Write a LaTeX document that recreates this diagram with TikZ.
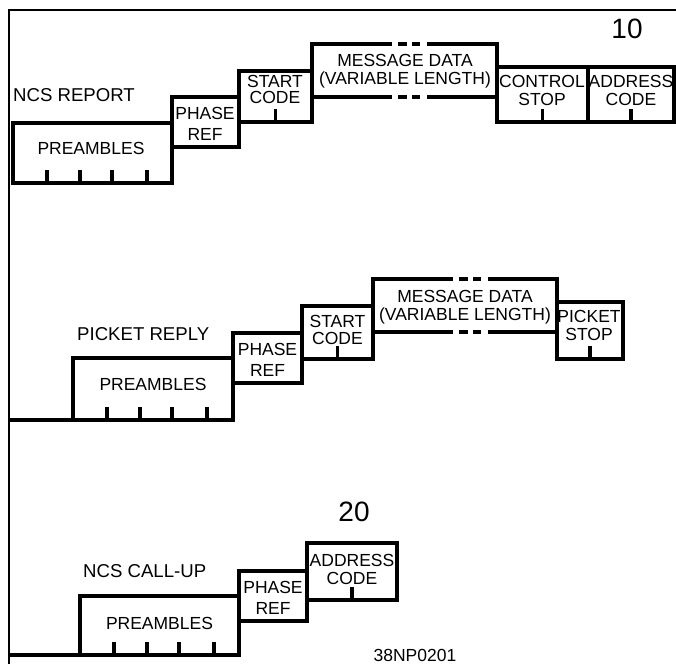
\documentclass[tikz,border=0pt]{standalone}
\usepackage{fontspec}
\setmainfont{Liberation Sans}
\usetikzlibrary{positioning}

\begin{document}
\begin{tikzpicture}[
    x=1pt, y=-1pt,
    font=\fontsize{17.5}{18}\selectfont,
    field/.style={draw, line width=3.2pt, anchor=north west, inner sep=0pt, outer sep=0pt},
    openfield/.style={anchor=north west, inner sep=0pt, outer sep=0pt},
    lbl/.style={align=center, inner sep=0pt},
    title/.style={anchor=west, inner sep=0pt, font=\fontsize{18.6}{19}\selectfont},
    num/.style={font=\fontsize{28}{28}\selectfont, inner sep=0pt},
    heavy/.style={line width=3.2pt},
    gapline/.style={line width=3.2pt,
                    dash pattern=on 80pt off 6pt on 9pt off 5pt on 8pt off 7pt on 300pt},
    frame/.style={line width=2.8pt}
]
\useasboundingbox (0,0) rectangle (676,664);
\draw[frame] (676,10) -- (9,10) -- (9,664);

% NCS report
\node[title] (ncsrep) at (13,95) {NCS REPORT};
\node[num] (ten) at (627,29) {10};
\node[field, minimum width=159, minimum height=60] (pre1) at (13,123) {};
\node[field, minimum width=67, minimum height=50] (phase1) at (172,97) {};
\node[field, minimum width=73, minimum height=51] (start1) at (239,71) {};
\node[openfield, minimum width=185, minimum height=53] (msg1) at (312,44) {};
\node[field, minimum width=91, minimum height=55] (ctrl1) at (497,67) {};
\node[field, minimum width=86, minimum height=55] (addr1) at (588,67) {};
\node[lbl] (pre1t) at (91,148) {PREAMBLES};
\node[lbl] (phase1t) at (205,123.5) {PHASE\\[3pt]REF};
\node[lbl] (start1t) at (275,89.5) {START\\[-1.5pt]CODE};
\node[lbl] (msg1t) at (405,71) {MESSAGE DATA\\(VARIABLE LENGTH)};
\node[lbl] (ctrl1t) at (542,90.5) {CONTROL\\STOP};
\node[lbl] (addr1t) at (631,90.5) {ADDRESS\\CODE};

% picket reply
\node[title] (picrep) at (77,334.5) {PICKET REPLY};
\node[field, minimum width=160, minimum height=62] (pre2) at (73,358) {};
\node[field, minimum width=69, minimum height=50] (phase2) at (233,333) {};
\node[field, minimum width=71, minimum height=53] (start2) at (302,306) {};
\node[openfield, minimum width=184, minimum height=53] (msg2) at (373,279) {};
\node[field, minimum width=66, minimum height=57] (pick2) at (557,302) {};
\node[lbl] (pre2t) at (153,384) {PREAMBLES};
\node[lbl] (phase2t) at (267.5,360) {PHASE\\[3pt]REF};
\node[lbl] (start2t) at (337.5,329.5) {START\\[-1pt]CODE};
\node[lbl] (msg2t) at (465,307) {MESSAGE DATA\\(VARIABLE LENGTH)};
\node[lbl] (pick2t) at (589,325) {PICKET\\STOP};
\draw[heavy] (9,420) -- (pre2.south west);

% NCS call-up
\node[title] (ncscall) at (83,571) {NCS CALL-UP};
\node[num] (twenty) at (354,512) {20};
\node[field, minimum width=159, minimum height=59] (pre3) at (80,596) {};
\node[field, minimum width=68, minimum height=50] (phase3) at (239,571) {};
\node[field, minimum width=90, minimum height=57] (addr3) at (307,543) {};
\node[lbl] (pre3t) at (159.5,623) {PREAMBLES};
\node[lbl] (phase3t) at (273,597.5) {PHASE\\[3pt]REF};
\node[lbl] (addr3t) at (352,569) {ADDRESS\\CODE};
\draw[heavy] (9,655) -- (pre3.south west);

\node[lbl] (figno) at (415,655.5) {38NP0201};

% message boxes, broken top and bottom
\foreach \m in {msg1,msg2} {
  \draw[heavy, line cap=rect] (\m.north west) -- (\m.south west)
                              (\m.north east) -- (\m.south east);
  \draw[gapline] (\m.north west) -- (\m.north east);
  \draw[gapline] (\m.south west) -- (\m.south east);
}

% ticks
\foreach \p in {pre1,pre2,pre3}
  \foreach \dx in {34,67,99,134}
    \draw[heavy] ([xshift=\dx]\p.south west) -- ++(0,-13);
\foreach \b in {start1,ctrl1,addr1,start2,pick2,addr3}
  \draw[heavy] (\b.south) -- ++(0,-13);
\end{tikzpicture}
\end{document}
